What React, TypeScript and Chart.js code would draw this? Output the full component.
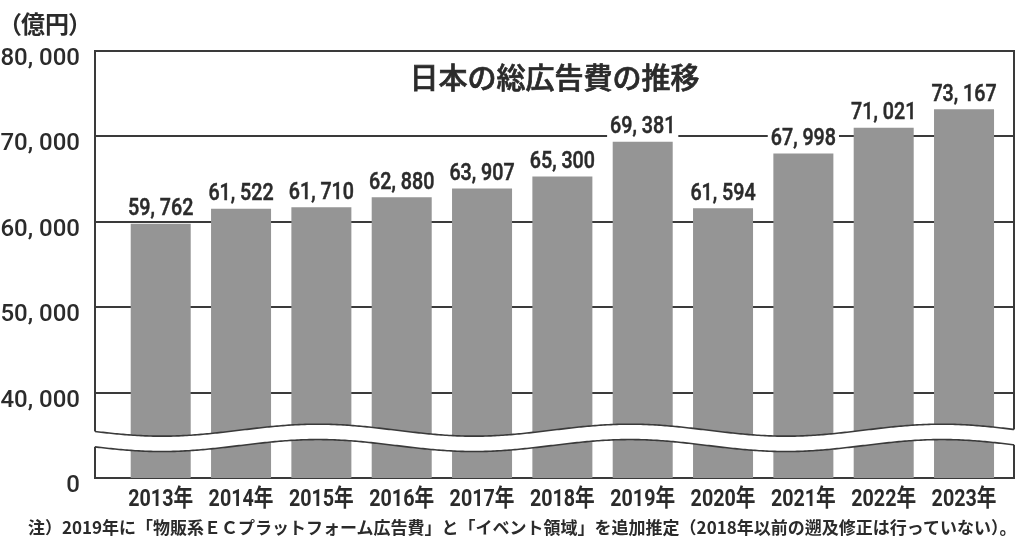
import React, { useEffect, useRef } from "react";
import { Chart, registerables } from "chart.js";

Chart.register(...registerables);

// ---- data ----
const years = ["2013年", "2014年", "2015年", "2016年", "2017年", "2018年", "2019年", "2020年", "2021年", "2022年", "2023年"];
const totals = [59762, 61522, 61710, 62880, 63907, 65300, 69381, 61594, 67998, 71021, 73167];
// broken axis: the value 30,000 on the scale stands for "0"
const yTickValues = [30000, 40000, 50000, 60000, 70000, 80000];
const yTickLabels = ["0", "40, 000", "50, 000", "60, 000", "70, 000", "80, 000"];
const chartTitle = "日本の総広告費の推移";
const unitLabel = "（億円）";
const footnote = "注）2019年に「物販系ＥＣプラットフォーム広告費」と「イベント領域」を追加推定（2018年以前の遡及修正は行っていない）。";

// ---- styles ----
const BAR = "#959595";
const LINE = "#3a3a3a";
const TEXT = "#2b2b2b";
const COND = 'Roboto, "Noto Sans CJK JP", sans-serif';
const JP = '"Noto Sans CJK JP", sans-serif';
const SQUEEZE = 0.82;

const fmt = (v: number) => v.toLocaleString("en-US").replace(",", ", ");

function condensedText(ctx: CanvasRenderingContext2D, t: string, x: number, y: number, heavy = 0) {
  ctx.save();
  ctx.translate(x, y);
  ctx.scale(SQUEEZE, 1);
  ctx.fillText(t, 0, 0);
  if (heavy > 0) {
    ctx.lineWidth = heavy;
    ctx.strokeStyle = ctx.fillStyle as string;
    ctx.strokeText(t, 0, 0);
  }
  ctx.restore();
}

const decorPlugin = {
  id: "decor",
  afterDatasetsDraw(chart: any) {
    const { ctx, chartArea: a, scales } = chart;
    const y = scales.y;
    const xs = scales.x;
    ctx.save();
    // right frame border
    ctx.strokeStyle = LINE;
    ctx.lineWidth = 2;
    ctx.beginPath();
    ctx.moveTo(a.right, a.top - 1);
    ctx.lineTo(a.right, a.bottom + 1);
    ctx.stroke();

    // axis break band
    const yU = y.getPixelForValue(35600);
    const yL = y.getPixelForValue(33800);
    const amp = 6;
    const period = 312;
    const phase = 223;
    const wave = (x: number) => -amp * Math.cos((2 * Math.PI * (x - a.left - phase)) / period);
    const x0 = a.left - 2;
    const x1 = a.right + 2;
    ctx.beginPath();
    ctx.moveTo(x0, yU + wave(x0));
    for (let x = x0; x <= x1; x += 2) ctx.lineTo(x, yU + wave(x));
    ctx.lineTo(x1, yU + wave(x1));
    for (let x = x1; x >= x0; x -= 2) ctx.lineTo(x, yL + wave(x));
    ctx.lineTo(x0, yL + wave(x0));
    ctx.closePath();
    ctx.fillStyle = "#ffffff";
    ctx.fill();
    ctx.lineWidth = 1.6;
    ctx.strokeStyle = LINE;
    for (const yc of [yU, yL]) {
      ctx.beginPath();
      ctx.moveTo(a.left, yc + wave(a.left));
      for (let x = a.left; x <= a.right; x += 2) ctx.lineTo(x, yc + wave(x));
      ctx.lineTo(a.right, yc + wave(a.right));
      ctx.stroke();
    }

    // value labels
    const meta = chart.getDatasetMeta(0);
    ctx.font = `500 24px ${COND}`;
    ctx.textAlign = "center";
    ctx.textBaseline = "alphabetic";
    meta.data.forEach((bar: any, i: number) => {
      const t = fmt(totals[i]);
      const w = ctx.measureText(t).width * SQUEEZE;
      const base = bar.y - 8.5;
      ctx.fillStyle = "#ffffff";
      ctx.fillRect(bar.x - w / 2 - 3, base - 19, w + 6, 23);
      ctx.fillStyle = TEXT;
      condensedText(ctx, t, bar.x, base, 0.5);
    });

    // category labels
    ctx.font = `bold 24px ${COND}`;
    ctx.fillStyle = TEXT;
    years.forEach((lab, i) => {
      condensedText(ctx, lab, xs.getPixelForValue(i), a.bottom + 28);
    });

    // title inside plot
    ctx.font = `500 29px ${JP}`;
    ctx.textBaseline = "middle";
    ctx.fillStyle = TEXT;
    ctx.fillText(chartTitle, (a.left + a.right) / 2, 78);
    ctx.lineWidth = 0.7;
    ctx.strokeStyle = TEXT;
    ctx.strokeText(chartTitle, (a.left + a.right) / 2, 78);
    ctx.restore();
  },
};

export default function App() {
  const ref = useRef<HTMLCanvasElement | null>(null);
  useEffect(() => {
    if (!ref.current) return;
    const chart = new Chart(ref.current, {
      type: "bar",
      data: {
        datasets: [
          {
            data: totals.map((v, i) => ({ x: i, y: v })),
            backgroundColor: BAR,
            borderWidth: 0,
            categoryPercentage: 1,
            barPercentage: 0.747,
          },
        ],
      },
      options: {
        animation: false,
        responsive: false,
        devicePixelRatio: 1,
        layout: { padding: { top: 51, right: 10, bottom: 0, left: 0 } },
        plugins: { legend: { display: false }, tooltip: { enabled: false }, title: { display: false } },
        scales: {
          x: {
            type: "linear",
            min: -0.818,
            max: 10.622,
            offset: false,
            grid: { display: false },
            border: { display: false },
            ticks: {
              stepSize: 1,
              includeBounds: false,
              autoSkip: false,
              maxRotation: 0,
              callback: () => "",
            },
            afterFit: (s: any) => {
              s.height = 74;
            },
          },
          y: {
            min: 30000,
            max: 80000,
            grid: { color: LINE, lineWidth: 2, drawTicks: false },
            border: { display: true, color: LINE, width: 2 },
            ticks: {
              stepSize: 10000,
              padding: 15,
              labelOffset: 8,
              color: TEXT,
              font: { family: "Roboto, sans-serif", size: 24, weight: "500" },
              callback: (v: any) => {
                const i = yTickValues.indexOf(Number(v));
                return i >= 0 ? yTickLabels[i] : "";
              },
            },
            afterFit: (s: any) => {
              s.width = 95;
            },
          },
        },
      },
      plugins: [decorPlugin],
    } as any);
    return () => chart.destroy();
  }, []);

  return (
    <div style={{ position: "absolute", left: 0, top: 0, width: 1024, height: 552, background: "#fff", overflow: "hidden" }}>
      <canvas ref={ref} width={1024} height={552} style={{ display: "block" }} />
      <div
        style={{
          position: "absolute",
          left: 9,
          top: 11,
          fontFamily: JP,
          fontSize: 24,
          lineHeight: "24px",
          fontWeight: 700,
          color: TEXT,
          fontFeatureSettings: '"palt"',
        }}
      >
        {unitLabel}
      </div>
      <div
        style={{
          position: "absolute",
          left: 28,
          top: 517,
          fontFamily: JP,
          fontSize: 17,
          lineHeight: "20px",
          fontWeight: 700,
          color: TEXT,
          whiteSpace: "nowrap",
        }}
      >
        {footnote}
      </div>
    </div>
  );
}
